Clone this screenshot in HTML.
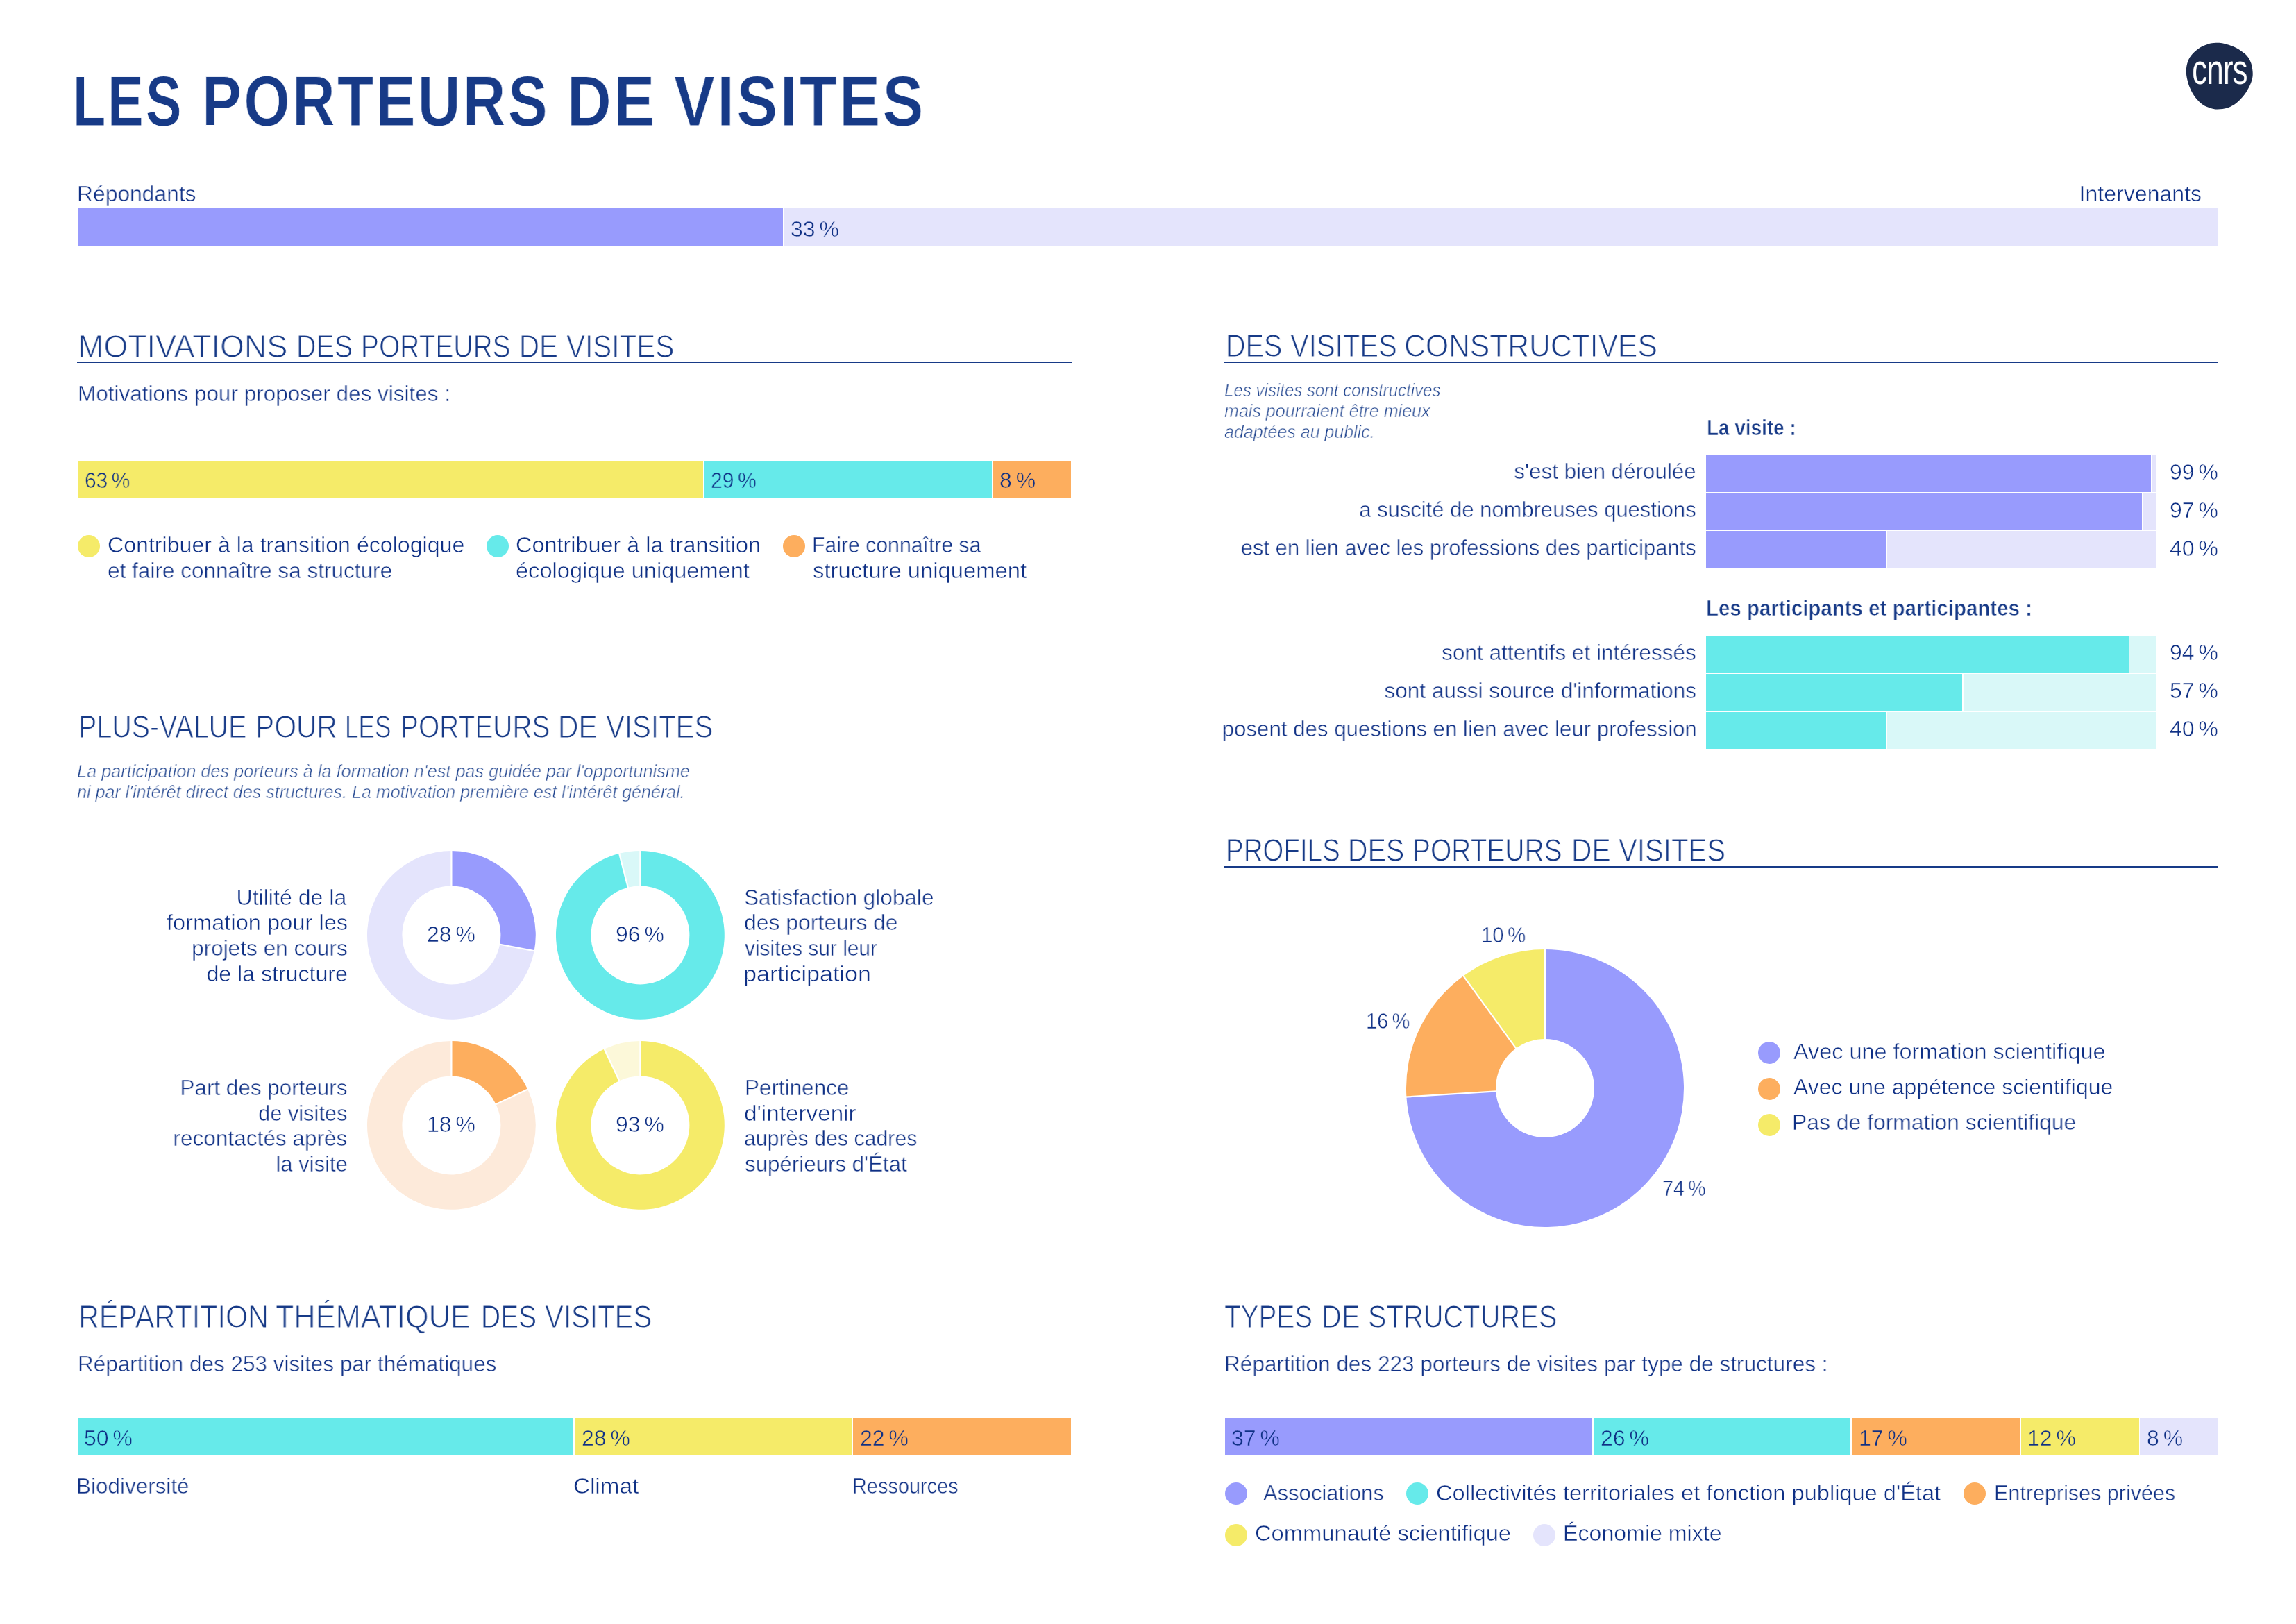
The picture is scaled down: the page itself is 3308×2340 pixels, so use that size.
<!DOCTYPE html>
<html lang="fr"><head><meta charset="utf-8"><title>Les porteurs de visites</title>
<style>
html,body{margin:0;padding:0;background:#fff;}
body{width:3308px;height:2340px;position:relative;overflow:hidden;font-family:"Liberation Sans",sans-serif;color:#173a87;}
.t{position:absolute;white-space:nowrap;will-change:transform;}
.r{position:absolute;}
.sp{display:inline-block;width:6px;}
</style></head><body>
<div class="t" style="left:104.6px;top:88.3px;font-size:101.7px;line-height:116.955px;font-weight:bold;letter-spacing:4px;transform:scaleX(0.7599);transform-origin:left top;color:#173a87;-webkit-text-stroke:0.8px #fff;">LES</div>
<div class="t" style="left:290.7px;top:88.3px;font-size:101.7px;line-height:116.955px;font-weight:bold;letter-spacing:4px;transform:scaleX(0.8392);transform-origin:left top;color:#173a87;-webkit-text-stroke:0.8px #fff;">PORTEURS</div>
<div class="t" style="left:817.3px;top:88.3px;font-size:101.7px;line-height:116.955px;font-weight:bold;letter-spacing:4px;transform:scaleX(0.8683);transform-origin:left top;color:#173a87;-webkit-text-stroke:0.8px #fff;">DE</div>
<div class="t" style="left:970.7px;top:88.3px;font-size:101.7px;line-height:116.955px;font-weight:bold;letter-spacing:4px;transform:scaleX(0.8683);transform-origin:left top;color:#173a87;-webkit-text-stroke:0.8px #fff;">VISITES</div>
<svg class="r" style="left:3140px;top:52px" width="116" height="116" viewBox="0 0 116 116"><path d="M52.80,9.82 C56.61,9.66 59.57,9.75 63.88,10.71 C68.19,11.67 74.34,13.70 78.65,15.58 C82.96,17.47 86.53,19.77 89.73,22.01 C92.94,24.25 95.58,26.13 97.86,29.03 C100.14,31.92 102.11,35.55 103.40,39.37 C104.69,43.19 105.37,48.24 105.62,51.93 C105.86,55.62 105.68,58.09 104.88,61.53 C104.08,64.98 102.72,68.74 100.82,72.62 C98.91,76.49 96.51,80.87 93.43,84.81 C90.35,88.75 86.29,93.18 82.35,96.26 C78.41,99.33 74.34,101.74 69.79,103.27 C65.23,104.81 59.20,105.43 55.01,105.49 C50.83,105.55 48.24,104.75 44.67,103.64 C41.10,102.54 37.16,101.30 33.59,98.84 C30.02,96.38 26.20,92.62 23.24,88.87 C20.29,85.11 17.83,80.62 15.86,76.31 C13.89,72.00 12.43,67.44 11.42,63.01 C10.41,58.58 9.68,54.15 9.80,49.71 C9.92,45.28 10.66,40.42 12.16,36.42 C13.67,32.41 15.86,29.03 18.81,25.70 C21.77,22.38 26.20,18.81 29.89,16.47 C33.59,14.13 37.16,12.78 40.98,11.67 C44.79,10.56 48.98,9.98 52.80,9.82 Z" fill="#1b2a4b"/></svg>
<div class="t" style="left:2697.5px;width:1000px;text-align:center;top:65.6px;font-size:60.3px;line-height:69.34499999999998px;transform:scaleX(0.7250);transform-origin:center top;color:#ffffff;letter-spacing:-1px;">cnrs</div>
<div class="t" style="left:111.2px;top:261.0px;font-size:32px;line-height:36.8px;transform:scaleX(0.9936);transform-origin:left top;color:#0f3085;-webkit-text-stroke:0.5px #fff;">Répondants</div>
<div class="t" style="right:136.2px;text-align:right;top:261.0px;font-size:32px;line-height:36.8px;transform:scaleX(1.0023);transform-origin:right top;color:#0f3085;-webkit-text-stroke:0.5px #fff;">Intervenants</div>
<div class="r" style="left:112.0px;top:300.0px;width:1016.0px;height:54.0px;background:#989bfd"></div>
<div class="r" style="left:1130.0px;top:300.0px;width:2066.0px;height:54.0px;background:#e4e4fc"></div>
<div class="t" style="left:1139.0px;top:311.5px;font-size:32px;line-height:36.8px;color:#0f3085;-webkit-text-stroke:0.5px #e4e4fc;">33<span class="sp"> </span>%</div>
<div class="t" style="left:111.9px;top:474.1px;font-size:45.6px;line-height:52.44px;transform:scaleX(0.9834);transform-origin:left top;color:#173a87;-webkit-text-stroke:1.0px #fff;">MOTIVATIONS</div>
<div class="t" style="left:426.6px;top:474.1px;font-size:45.6px;line-height:52.44px;transform:scaleX(0.8664);transform-origin:left top;color:#173a87;-webkit-text-stroke:1.0px #fff;">DES</div>
<div class="t" style="left:520.4px;top:474.1px;font-size:45.6px;line-height:52.44px;transform:scaleX(0.8537);transform-origin:left top;color:#173a87;-webkit-text-stroke:1.0px #fff;">PORTEURS</div>
<div class="t" style="left:748.1px;top:474.1px;font-size:45.6px;line-height:52.44px;transform:scaleX(0.8808);transform-origin:left top;color:#173a87;-webkit-text-stroke:1.0px #fff;">DE</div>
<div class="t" style="left:815.9px;top:474.1px;font-size:45.6px;line-height:52.44px;transform:scaleX(0.8880);transform-origin:left top;color:#173a87;-webkit-text-stroke:1.0px #fff;">VISITES</div>
<div class="r" style="left:111.0px;top:521.7px;width:1433.0px;height:1.6px;background:#173a87"></div>
<div class="t" style="left:112.0px;top:549.0px;font-size:32px;line-height:36.8px;transform:scaleX(0.9833);transform-origin:left top;color:#0f3085;-webkit-text-stroke:0.5px #fff;">Motivations pour proposer des visites :</div>
<div class="r" style="left:112.0px;top:664.0px;width:901.0px;height:54.0px;background:#f5eb69"></div>
<div class="r" style="left:1014.5px;top:664.0px;width:414.0px;height:54.0px;background:#66eaea"></div>
<div class="r" style="left:1430.0px;top:664.0px;width:113.0px;height:54.0px;background:#fdae5e"></div>
<div class="t" style="left:121.6px;top:673.7px;font-size:32px;line-height:36.8px;transform:scaleX(0.9330);transform-origin:left top;color:#0f3085;-webkit-text-stroke:0.5px #f5eb69;">63<span class="sp"> </span>%</div>
<div class="t" style="left:1024.1px;top:673.7px;font-size:32px;line-height:36.8px;transform:scaleX(0.9418);transform-origin:left top;color:#0f3085;-webkit-text-stroke:0.5px #66eaea;">29<span class="sp"> </span>%</div>
<div class="t" style="left:1439.6px;top:673.7px;font-size:32px;line-height:36.8px;color:#0f3085;-webkit-text-stroke:0.5px #fdae5e;">8<span class="sp"> </span>%</div>
<div class="r" style="left:111.7px;top:770.6px;width:32px;height:32px;border-radius:50%;background:#f5eb69"></div>
<div class="r" style="left:701.0px;top:770.6px;width:32px;height:32px;border-radius:50%;background:#66eaea"></div>
<div class="r" style="left:1127.8px;top:770.6px;width:32px;height:32px;border-radius:50%;background:#fdae5e"></div>
<div class="t" style="left:155.2px;top:767.0px;font-size:32px;line-height:36.8px;transform:scaleX(1.0039);transform-origin:left top;color:#0f3085;-webkit-text-stroke:0.5px #fff;">Contribuer à la transition écologique</div>
<div class="t" style="left:155.2px;top:803.8px;font-size:32px;line-height:36.8px;transform:scaleX(0.9853);transform-origin:left top;color:#0f3085;-webkit-text-stroke:0.5px #fff;">et faire connaître sa structure</div>
<div class="t" style="left:742.7px;top:767.0px;font-size:32px;line-height:36.8px;transform:scaleX(1.0129);transform-origin:left top;color:#0f3085;-webkit-text-stroke:0.5px #fff;">Contribuer à la transition</div>
<div class="t" style="left:742.7px;top:803.8px;font-size:32px;line-height:36.8px;transform:scaleX(1.0181);transform-origin:left top;color:#0f3085;-webkit-text-stroke:0.5px #fff;">écologique uniquement</div>
<div class="t" style="left:1169.5px;top:767.0px;font-size:32px;line-height:36.8px;transform:scaleX(0.9437);transform-origin:left top;color:#0f3085;-webkit-text-stroke:0.5px #fff;">Faire connaître sa</div>
<div class="t" style="left:1171.4px;top:803.8px;font-size:32px;line-height:36.8px;transform:scaleX(1.0252);transform-origin:left top;color:#0f3085;-webkit-text-stroke:0.5px #fff;">structure uniquement</div>
<div class="t" style="left:112.9px;top:1022.4px;font-size:45.6px;line-height:52.44px;transform:scaleX(0.8645);transform-origin:left top;color:#173a87;-webkit-text-stroke:1.0px #fff;">PLUS-VALUE</div>
<div class="t" style="left:367.7px;top:1022.4px;font-size:45.6px;line-height:52.44px;transform:scaleX(0.8951);transform-origin:left top;color:#173a87;-webkit-text-stroke:1.0px #fff;">POUR</div>
<div class="t" style="left:497.3px;top:1022.4px;font-size:45.6px;line-height:52.44px;transform:scaleX(0.7717);transform-origin:left top;color:#173a87;-webkit-text-stroke:1.0px #fff;">LES</div>
<div class="t" style="left:576.5px;top:1022.4px;font-size:45.6px;line-height:52.44px;transform:scaleX(0.8529);transform-origin:left top;color:#173a87;-webkit-text-stroke:1.0px #fff;">PORTEURS</div>
<div class="t" style="left:804.3px;top:1022.4px;font-size:45.6px;line-height:52.44px;transform:scaleX(0.8943);transform-origin:left top;color:#173a87;-webkit-text-stroke:1.0px #fff;">DE</div>
<div class="t" style="left:872.8px;top:1022.4px;font-size:45.6px;line-height:52.44px;transform:scaleX(0.8828);transform-origin:left top;color:#173a87;-webkit-text-stroke:1.0px #fff;">VISITES</div>
<div class="r" style="left:111.0px;top:1069.7px;width:1433.0px;height:1.6px;background:#173a87"></div>
<div class="t" style="left:111.2px;top:1097.2px;font-size:26px;line-height:29.9px;font-style:italic;transform:scaleX(0.9714);transform-origin:left top;color:#21458f;-webkit-text-stroke:0.6px #fff;">La participation des porteurs à la formation n'est pas guidée par l'opportunisme</div>
<div class="t" style="left:111.2px;top:1127.0px;font-size:26px;line-height:29.9px;font-style:italic;transform:scaleX(0.9635);transform-origin:left top;color:#21458f;-webkit-text-stroke:0.6px #fff;">ni par l'intérêt direct des structures. La motivation première est l'intérêt général.</div>
<svg class="r" style="left:524.6px;top:1221.8px" width="250.8" height="250.8" viewBox="0 0 250.8 250.8"><path d="M125.40,4.00 A121.4,121.4 0 0 1 244.65,148.15 L195.14,138.70 A71,71 0 0 0 125.40,54.40 Z" fill="#989bfd"/><path d="M244.65,148.15 A121.4,121.4 0 1 1 125.40,4.00 L125.40,54.40 A71,71 0 1 0 195.14,138.70 Z" fill="#e4e4fc"/><line x1="125.40" y1="55.40" x2="125.40" y2="2.00" stroke="#fff" stroke-width="2.2"/><line x1="194.16" y1="138.52" x2="246.61" y2="148.52" stroke="#fff" stroke-width="2.2"/></svg>
<svg class="r" style="left:796.6px;top:1221.8px" width="250.8" height="250.8" viewBox="0 0 250.8 250.8"><path d="M125.40,4.00 A121.4,121.4 0 1 1 95.21,7.81 L107.74,56.63 A71,71 0 1 0 125.40,54.40 Z" fill="#66eaea"/><path d="M95.21,7.81 A121.4,121.4 0 0 1 125.40,4.00 L125.40,54.40 A71,71 0 0 0 107.74,56.63 Z" fill="#d9f8f8"/><line x1="125.40" y1="55.40" x2="125.40" y2="2.00" stroke="#fff" stroke-width="2.2"/><line x1="107.99" y1="57.60" x2="94.71" y2="5.88" stroke="#fff" stroke-width="2.2"/></svg>
<svg class="r" style="left:524.6px;top:1496.0px" width="250.8" height="250.8" viewBox="0 0 250.8 250.8"><path d="M125.40,4.00 A121.4,121.4 0 0 1 235.25,73.71 L189.64,95.17 A71,71 0 0 0 125.40,54.40 Z" fill="#fdae5e"/><path d="M235.25,73.71 A121.4,121.4 0 1 1 125.40,4.00 L125.40,54.40 A71,71 0 1 0 189.64,95.17 Z" fill="#fdeada"/><line x1="125.40" y1="55.40" x2="125.40" y2="2.00" stroke="#fff" stroke-width="2.2"/><line x1="188.74" y1="95.60" x2="237.06" y2="72.86" stroke="#fff" stroke-width="2.2"/></svg>
<svg class="r" style="left:796.6px;top:1496.0px" width="250.8" height="250.8" viewBox="0 0 250.8 250.8"><path d="M125.40,4.00 A121.4,121.4 0 1 1 73.71,15.55 L95.17,61.16 A71,71 0 1 0 125.40,54.40 Z" fill="#f5eb69"/><path d="M73.71,15.55 A121.4,121.4 0 0 1 125.40,4.00 L125.40,54.40 A71,71 0 0 0 95.17,61.16 Z" fill="#fcf8d9"/><line x1="125.40" y1="55.40" x2="125.40" y2="2.00" stroke="#fff" stroke-width="2.2"/><line x1="95.60" y1="62.06" x2="72.86" y2="13.74" stroke="#fff" stroke-width="2.2"/></svg>
<div class="t" style="left:150.0px;width:1000px;text-align:center;top:1327.5px;font-size:32px;line-height:36.8px;color:#0f3085;-webkit-text-stroke:0.5px #fff;">28<span class="sp"> </span>%</div>
<div class="t" style="left:422.0px;width:1000px;text-align:center;top:1327.5px;font-size:32px;line-height:36.8px;color:#0f3085;-webkit-text-stroke:0.5px #fff;">96<span class="sp"> </span>%</div>
<div class="t" style="left:150.0px;width:1000px;text-align:center;top:1601.7px;font-size:32px;line-height:36.8px;color:#0f3085;-webkit-text-stroke:0.5px #fff;">18<span class="sp"> </span>%</div>
<div class="t" style="left:422.0px;width:1000px;text-align:center;top:1601.7px;font-size:32px;line-height:36.8px;color:#0f3085;-webkit-text-stroke:0.5px #fff;">93<span class="sp"> </span>%</div>
<div class="t" style="right:2808.4px;text-align:right;top:1274.8px;font-size:32px;line-height:36.8px;transform:scaleX(1.0032);transform-origin:right top;color:#0f3085;-webkit-text-stroke:0.5px #fff;">Utilité de la</div>
<div class="t" style="right:2807.2px;text-align:right;top:1311.4px;font-size:32px;line-height:36.8px;transform:scaleX(1.0199);transform-origin:right top;color:#0f3085;-webkit-text-stroke:0.5px #fff;">formation pour les</div>
<div class="t" style="right:2807.2px;text-align:right;top:1348.0px;font-size:32px;line-height:36.8px;transform:scaleX(0.9868);transform-origin:right top;color:#0f3085;-webkit-text-stroke:0.5px #fff;">projets en cours</div>
<div class="t" style="right:2807.4px;text-align:right;top:1384.6px;font-size:32px;line-height:36.8px;transform:scaleX(1.0026);transform-origin:right top;color:#0f3085;-webkit-text-stroke:0.5px #fff;">de la structure</div>
<div class="t" style="left:1072.2px;top:1274.8px;font-size:32px;line-height:36.8px;transform:scaleX(0.9854);transform-origin:left top;color:#0f3085;-webkit-text-stroke:0.5px #fff;">Satisfaction globale</div>
<div class="t" style="left:1072.2px;top:1311.4px;font-size:32px;line-height:36.8px;transform:scaleX(0.9965);transform-origin:left top;color:#0f3085;-webkit-text-stroke:0.5px #fff;">des porteurs de</div>
<div class="t" style="left:1073.2px;top:1348.0px;font-size:32px;line-height:36.8px;transform:scaleX(0.9339);transform-origin:left top;color:#0f3085;-webkit-text-stroke:0.5px #fff;">visites sur leur</div>
<div class="t" style="left:1071.1px;top:1384.6px;font-size:32px;line-height:36.8px;transform:scaleX(1.0655);transform-origin:left top;color:#0f3085;-webkit-text-stroke:0.5px #fff;">participation</div>
<div class="t" style="right:2807.2px;text-align:right;top:1549.1px;font-size:32px;line-height:36.8px;transform:scaleX(0.9816);transform-origin:right top;color:#0f3085;-webkit-text-stroke:0.5px #fff;">Part des porteurs</div>
<div class="t" style="right:2807.2px;text-align:right;top:1585.7px;font-size:32px;line-height:36.8px;transform:scaleX(0.9613);transform-origin:right top;color:#0f3085;-webkit-text-stroke:0.5px #fff;">de visites</div>
<div class="t" style="right:2807.2px;text-align:right;top:1622.3px;font-size:32px;line-height:36.8px;transform:scaleX(0.9870);transform-origin:right top;color:#0f3085;-webkit-text-stroke:0.5px #fff;">recontactés après</div>
<div class="t" style="right:2807.4px;text-align:right;top:1658.9px;font-size:32px;line-height:36.8px;transform:scaleX(0.9672);transform-origin:right top;color:#0f3085;-webkit-text-stroke:0.5px #fff;">la visite</div>
<div class="t" style="left:1072.6px;top:1549.1px;font-size:32px;line-height:36.8px;transform:scaleX(0.9821);transform-origin:left top;color:#0f3085;-webkit-text-stroke:0.5px #fff;">Pertinence</div>
<div class="t" style="left:1071.9px;top:1585.7px;font-size:32px;line-height:36.8px;transform:scaleX(1.0390);transform-origin:left top;color:#0f3085;-webkit-text-stroke:0.5px #fff;">d'intervenir</div>
<div class="t" style="left:1072.3px;top:1622.3px;font-size:32px;line-height:36.8px;transform:scaleX(0.9473);transform-origin:left top;color:#0f3085;-webkit-text-stroke:0.5px #fff;">auprès des cadres</div>
<div class="t" style="left:1073.2px;top:1658.9px;font-size:32px;line-height:36.8px;transform:scaleX(0.9773);transform-origin:left top;color:#0f3085;-webkit-text-stroke:0.5px #fff;">supérieurs d'État</div>
<div class="t" style="left:1765.6px;top:473.4px;font-size:45.6px;line-height:52.44px;transform:scaleX(0.8675);transform-origin:left top;color:#173a87;-webkit-text-stroke:1.0px #fff;">DES</div>
<div class="t" style="left:1859.2px;top:473.4px;font-size:45.6px;line-height:52.44px;transform:scaleX(0.8794);transform-origin:left top;color:#173a87;-webkit-text-stroke:1.0px #fff;">VISITES</div>
<div class="t" style="left:2023.1px;top:473.4px;font-size:45.6px;line-height:52.44px;transform:scaleX(0.9354);transform-origin:left top;color:#173a87;-webkit-text-stroke:1.0px #fff;">CONSTRUCTIVES</div>
<div class="r" style="left:1764.0px;top:521.7px;width:1432.0px;height:1.6px;background:#173a87"></div>
<div class="t" style="left:1764.2px;top:548.0px;font-size:26px;line-height:29.9px;font-style:italic;transform:scaleX(0.9252);transform-origin:left top;color:#21458f;-webkit-text-stroke:0.6px #fff;">Les visites sont constructives</div>
<div class="t" style="left:1764.2px;top:578.0px;font-size:26px;line-height:29.9px;font-style:italic;transform:scaleX(0.9634);transform-origin:left top;color:#21458f;-webkit-text-stroke:0.6px #fff;">mais pourraient être mieux</div>
<div class="t" style="left:1764.2px;top:608.0px;font-size:26px;line-height:29.9px;font-style:italic;transform:scaleX(0.9607);transform-origin:left top;color:#21458f;-webkit-text-stroke:0.6px #fff;">adaptées au public.</div>
<div class="t" style="left:2458.5px;top:597.8px;font-size:32px;line-height:36.8px;font-weight:bold;transform:scaleX(0.8716);transform-origin:left top;color:#173a87;-webkit-text-stroke:0.6px #fff;">La visite :</div>
<div class="r" style="left:2458.0px;top:655.0px;width:648.0px;height:53.8px;background:#e4e4fc"></div>
<div class="r" style="left:2458.0px;top:655.0px;width:641.5px;height:53.8px;background:#989bfd"></div>
<div class="r" style="left:3099.3px;top:655.0px;width:1.6px;height:53.8px;background:#ffffff"></div>
<div class="t" style="right:864.4px;text-align:right;top:661.4px;font-size:32px;line-height:36.8px;transform:scaleX(0.9800);transform-origin:right top;color:#0f3085;-webkit-text-stroke:0.5px #fff;">s'est bien déroulée</div>
<div class="t" style="left:3126.4px;top:661.5px;font-size:32px;line-height:36.8px;color:#0f3085;-webkit-text-stroke:0.5px #fff;">99<span class="sp"> </span>%</div>
<div class="r" style="left:2458.0px;top:710.0px;width:648.0px;height:53.8px;background:#e4e4fc"></div>
<div class="r" style="left:2458.0px;top:710.0px;width:628.6px;height:53.8px;background:#989bfd"></div>
<div class="r" style="left:3086.4px;top:710.0px;width:1.6px;height:53.8px;background:#ffffff"></div>
<div class="t" style="right:864.2px;text-align:right;top:716.4px;font-size:32px;line-height:36.8px;transform:scaleX(0.9677);transform-origin:right top;color:#0f3085;-webkit-text-stroke:0.5px #fff;">a suscité de nombreuses questions</div>
<div class="t" style="left:3126.4px;top:716.5px;font-size:32px;line-height:36.8px;color:#0f3085;-webkit-text-stroke:0.5px #fff;">97<span class="sp"> </span>%</div>
<div class="r" style="left:2458.0px;top:765.0px;width:648.0px;height:53.8px;background:#e4e4fc"></div>
<div class="r" style="left:2458.0px;top:765.0px;width:259.2px;height:53.8px;background:#989bfd"></div>
<div class="r" style="left:2717.0px;top:765.0px;width:1.6px;height:53.8px;background:#ffffff"></div>
<div class="t" style="right:864.2px;text-align:right;top:771.4px;font-size:32px;line-height:36.8px;transform:scaleX(0.9680);transform-origin:right top;color:#0f3085;-webkit-text-stroke:0.5px #fff;">est en lien avec les professions des participants</div>
<div class="t" style="left:3126.4px;top:771.5px;font-size:32px;line-height:36.8px;color:#0f3085;-webkit-text-stroke:0.5px #fff;">40<span class="sp"> </span>%</div>
<div class="t" style="left:2458.4px;top:857.8px;font-size:32px;line-height:36.8px;font-weight:bold;transform:scaleX(0.9207);transform-origin:left top;color:#173a87;-webkit-text-stroke:0.6px #fff;">Les participants et participantes :</div>
<div class="r" style="left:2458.0px;top:915.5px;width:648.0px;height:53.8px;background:#d9f8f8"></div>
<div class="r" style="left:2458.0px;top:915.5px;width:609.1px;height:53.8px;background:#66eaea"></div>
<div class="r" style="left:3066.9px;top:915.5px;width:1.6px;height:53.8px;background:#ffffff"></div>
<div class="t" style="right:864.2px;text-align:right;top:922.0px;font-size:32px;line-height:36.8px;transform:scaleX(0.9864);transform-origin:right top;color:#0f3085;-webkit-text-stroke:0.5px #fff;">sont attentifs et intéressés</div>
<div class="t" style="left:3126.4px;top:922.0px;font-size:32px;line-height:36.8px;color:#0f3085;-webkit-text-stroke:0.5px #fff;">94<span class="sp"> </span>%</div>
<div class="r" style="left:2458.0px;top:970.5px;width:648.0px;height:53.8px;background:#d9f8f8"></div>
<div class="r" style="left:2458.0px;top:970.5px;width:369.4px;height:53.8px;background:#66eaea"></div>
<div class="r" style="left:2827.2px;top:970.5px;width:1.6px;height:53.8px;background:#ffffff"></div>
<div class="t" style="right:864.2px;text-align:right;top:977.0px;font-size:32px;line-height:36.8px;transform:scaleX(0.9859);transform-origin:right top;color:#0f3085;-webkit-text-stroke:0.5px #fff;">sont aussi source d'informations</div>
<div class="t" style="left:3126.4px;top:977.0px;font-size:32px;line-height:36.8px;color:#0f3085;-webkit-text-stroke:0.5px #fff;">57<span class="sp"> </span>%</div>
<div class="r" style="left:2458.0px;top:1025.5px;width:648.0px;height:53.8px;background:#d9f8f8"></div>
<div class="r" style="left:2458.0px;top:1025.5px;width:259.2px;height:53.8px;background:#66eaea"></div>
<div class="r" style="left:2717.0px;top:1025.5px;width:1.6px;height:53.8px;background:#ffffff"></div>
<div class="t" style="right:863.4px;text-align:right;top:1032.0px;font-size:32px;line-height:36.8px;transform:scaleX(0.9763);transform-origin:right top;color:#0f3085;-webkit-text-stroke:0.5px #fff;">posent des questions en lien avec leur profession</div>
<div class="t" style="left:3126.4px;top:1032.0px;font-size:32px;line-height:36.8px;color:#0f3085;-webkit-text-stroke:0.5px #fff;">40<span class="sp"> </span>%</div>
<div class="t" style="left:1765.5px;top:1200.2px;font-size:45.6px;line-height:52.44px;transform:scaleX(0.8444);transform-origin:left top;color:#173a87;-webkit-text-stroke:1.0px #fff;">PROFILS</div>
<div class="t" style="left:1941.6px;top:1200.2px;font-size:45.6px;line-height:52.44px;transform:scaleX(0.8675);transform-origin:left top;color:#173a87;-webkit-text-stroke:1.0px #fff;">DES</div>
<div class="t" style="left:2035.3px;top:1200.2px;font-size:45.6px;line-height:52.44px;transform:scaleX(0.8537);transform-origin:left top;color:#173a87;-webkit-text-stroke:1.0px #fff;">PORTEURS</div>
<div class="t" style="left:2263.5px;top:1200.2px;font-size:45.6px;line-height:52.44px;transform:scaleX(0.8943);transform-origin:left top;color:#173a87;-webkit-text-stroke:1.0px #fff;">DE</div>
<div class="t" style="left:2332.0px;top:1200.2px;font-size:45.6px;line-height:52.44px;transform:scaleX(0.8805);transform-origin:left top;color:#173a87;-webkit-text-stroke:1.0px #fff;">VISITES</div>
<div class="r" style="left:1764.0px;top:1248.2px;width:1432.0px;height:1.6px;background:#173a87"></div>
<svg class="r" style="left:2021.9px;top:1363.8px" width="408" height="408" viewBox="0 0 408 408"><path d="M204.00,4.00 A200,200 0 1 1 4.39,216.56 L133.14,208.46 A71,71 0 1 0 204.00,133.00 Z" fill="#989bfd"/><path d="M4.39,216.56 A200,200 0 0 1 86.44,42.20 L162.27,146.56 A71,71 0 0 0 133.14,208.46 Z" fill="#fdae5e"/><path d="M86.44,42.20 A200,200 0 0 1 204.00,4.00 L204.00,133.00 A71,71 0 0 0 162.27,146.56 Z" fill="#f5eb69"/><line x1="204.00" y1="134.00" x2="204.00" y2="2.00" stroke="#fff" stroke-width="2.2"/><line x1="134.14" y1="208.40" x2="2.40" y2="216.68" stroke="#fff" stroke-width="2.2"/><line x1="162.86" y1="147.37" x2="85.27" y2="40.58" stroke="#fff" stroke-width="2.2"/></svg>
<div class="t" style="left:2133.7px;top:1329.4px;font-size:32px;line-height:36.8px;transform:scaleX(0.9187);transform-origin:left top;color:#0f3085;-webkit-text-stroke:0.5px #fff;">10<span class="sp"> </span>%</div>
<div class="t" style="left:1968.2px;top:1453.0px;font-size:32px;line-height:36.8px;transform:scaleX(0.9054);transform-origin:left top;color:#0f3085;-webkit-text-stroke:0.5px #fff;">16<span class="sp"> </span>%</div>
<div class="t" style="left:2394.5px;top:1693.5px;font-size:32px;line-height:36.8px;transform:scaleX(0.8951);transform-origin:left top;color:#0f3085;-webkit-text-stroke:0.5px #fff;">74<span class="sp"> </span>%</div>
<div class="r" style="left:2532.8px;top:1501.0px;width:32px;height:32px;border-radius:50%;background:#989bfd"></div>
<div class="t" style="left:2584.2px;top:1496.5px;font-size:32px;line-height:36.8px;transform:scaleX(1.0122);transform-origin:left top;color:#0f3085;-webkit-text-stroke:0.5px #fff;">Avec une formation scientifique</div>
<div class="r" style="left:2532.8px;top:1552.8px;width:32px;height:32px;border-radius:50%;background:#fdae5e"></div>
<div class="t" style="left:2584.2px;top:1547.7px;font-size:32px;line-height:36.8px;transform:scaleX(1.0002);transform-origin:left top;color:#0f3085;-webkit-text-stroke:0.5px #fff;">Avec une appétence scientifique</div>
<div class="r" style="left:2532.8px;top:1604.6px;width:32px;height:32px;border-radius:50%;background:#f5eb69"></div>
<div class="t" style="left:2582.2px;top:1598.9px;font-size:32px;line-height:36.8px;transform:scaleX(0.9961);transform-origin:left top;color:#0f3085;-webkit-text-stroke:0.5px #fff;">Pas de formation scientifique</div>
<div class="t" style="left:112.8px;top:1872.4px;font-size:45.6px;line-height:52.44px;transform:scaleX(0.9059);transform-origin:left top;color:#173a87;-webkit-text-stroke:1.0px #fff;">RÉPARTITION</div>
<div class="t" style="left:396.8px;top:1872.4px;font-size:45.6px;line-height:52.44px;transform:scaleX(0.9502);transform-origin:left top;color:#173a87;-webkit-text-stroke:1.0px #fff;">THÉMATIQUE</div>
<div class="t" style="left:692.5px;top:1872.4px;font-size:45.6px;line-height:52.44px;transform:scaleX(0.8541);transform-origin:left top;color:#173a87;-webkit-text-stroke:1.0px #fff;">DES</div>
<div class="t" style="left:784.6px;top:1872.4px;font-size:45.6px;line-height:52.44px;transform:scaleX(0.8828);transform-origin:left top;color:#173a87;-webkit-text-stroke:1.0px #fff;">VISITES</div>
<div class="r" style="left:111.0px;top:1919.8px;width:1433.0px;height:1.6px;background:#173a87"></div>
<div class="t" style="left:111.8px;top:1947.0px;font-size:32px;line-height:36.8px;transform:scaleX(0.9832);transform-origin:left top;color:#0f3085;-webkit-text-stroke:0.5px #fff;">Répartition des 253 visites par thématiques</div>
<div class="r" style="left:112.0px;top:2043.0px;width:714.3px;height:53.5px;background:#66eaea"></div>
<div class="r" style="left:828.0px;top:2043.0px;width:399.5px;height:53.5px;background:#f5eb69"></div>
<div class="r" style="left:1229.3px;top:2043.0px;width:313.7px;height:53.5px;background:#fdae5e"></div>
<div class="t" style="left:120.7px;top:2054.0px;font-size:32px;line-height:36.8px;color:#0f3085;-webkit-text-stroke:0.5px #66eaea;">50<span class="sp"> </span>%</div>
<div class="t" style="left:837.7px;top:2054.0px;font-size:32px;line-height:36.8px;color:#0f3085;-webkit-text-stroke:0.5px #f5eb69;">28<span class="sp"> </span>%</div>
<div class="t" style="left:1238.9px;top:2054.0px;font-size:32px;line-height:36.8px;color:#0f3085;-webkit-text-stroke:0.5px #fdae5e;">22<span class="sp"> </span>%</div>
<div class="t" style="left:110.2px;top:2123.3px;font-size:32px;line-height:36.8px;transform:scaleX(0.9827);transform-origin:left top;color:#0f3085;-webkit-text-stroke:0.5px #fff;">Biodiversité</div>
<div class="t" style="left:826.3px;top:2123.3px;font-size:32px;line-height:36.8px;transform:scaleX(1.0381);transform-origin:left top;color:#0f3085;-webkit-text-stroke:0.5px #fff;">Climat</div>
<div class="t" style="left:1227.7px;top:2123.3px;font-size:32px;line-height:36.8px;transform:scaleX(0.9027);transform-origin:left top;color:#0f3085;-webkit-text-stroke:0.5px #fff;">Ressources</div>
<div class="t" style="left:1763.8px;top:1872.1px;font-size:45.6px;line-height:52.44px;transform:scaleX(0.8499);transform-origin:left top;color:#173a87;-webkit-text-stroke:1.0px #fff;">TYPES</div>
<div class="t" style="left:1903.6px;top:1872.1px;font-size:45.6px;line-height:52.44px;transform:scaleX(0.8757);transform-origin:left top;color:#173a87;-webkit-text-stroke:1.0px #fff;">DE</div>
<div class="t" style="left:1970.9px;top:1872.1px;font-size:45.6px;line-height:52.44px;transform:scaleX(0.8742);transform-origin:left top;color:#173a87;-webkit-text-stroke:1.0px #fff;">STRUCTURES</div>
<div class="r" style="left:1764.0px;top:1919.8px;width:1432.0px;height:1.6px;background:#173a87"></div>
<div class="t" style="left:1763.9px;top:1947.4px;font-size:32px;line-height:36.8px;transform:scaleX(0.9855);transform-origin:left top;color:#0f3085;-webkit-text-stroke:0.5px #fff;">Répartition des 223 porteurs de visites par type de structures :</div>
<div class="r" style="left:1764.5px;top:2043.0px;width:529.7px;height:53.5px;background:#989bfd"></div>
<div class="t" style="left:1774.0px;top:2054.0px;font-size:32px;line-height:36.8px;color:#0f3085;-webkit-text-stroke:0.5px #989bfd;">37<span class="sp"> </span>%</div>
<div class="r" style="left:2296.0px;top:2043.0px;width:370.4px;height:53.5px;background:#66eaea"></div>
<div class="t" style="left:2305.5px;top:2054.0px;font-size:32px;line-height:36.8px;color:#0f3085;-webkit-text-stroke:0.5px #66eaea;">26<span class="sp"> </span>%</div>
<div class="r" style="left:2668.1px;top:2043.0px;width:241.6px;height:53.5px;background:#fdae5e"></div>
<div class="t" style="left:2677.6px;top:2054.0px;font-size:32px;line-height:36.8px;color:#0f3085;-webkit-text-stroke:0.5px #fdae5e;">17<span class="sp"> </span>%</div>
<div class="r" style="left:2911.5px;top:2043.0px;width:170.0px;height:53.5px;background:#f5eb69"></div>
<div class="t" style="left:2921.0px;top:2054.0px;font-size:32px;line-height:36.8px;color:#0f3085;-webkit-text-stroke:0.5px #f5eb69;">12<span class="sp"> </span>%</div>
<div class="r" style="left:3083.3px;top:2043.0px;width:112.7px;height:53.5px;background:#e4e4fc"></div>
<div class="t" style="left:3092.8px;top:2054.0px;font-size:32px;line-height:36.8px;color:#0f3085;-webkit-text-stroke:0.5px #e4e4fc;">8<span class="sp"> </span>%</div>
<div class="r" style="left:1764.8px;top:2136.4px;width:32px;height:32px;border-radius:50%;background:#989bfd"></div>
<div class="t" style="left:1819.6px;top:2132.8px;font-size:32px;line-height:36.8px;transform:scaleX(0.9673);transform-origin:left top;color:#0f3085;-webkit-text-stroke:0.5px #fff;">Associations</div>
<div class="r" style="left:2026.2px;top:2136.4px;width:32px;height:32px;border-radius:50%;background:#66eaea"></div>
<div class="t" style="left:2069.4px;top:2132.8px;font-size:32px;line-height:36.8px;transform:scaleX(1.0183);transform-origin:left top;color:#0f3085;-webkit-text-stroke:0.5px #fff;">Collectivités territoriales et fonction publique d'État</div>
<div class="r" style="left:2829.0px;top:2136.4px;width:32px;height:32px;border-radius:50%;background:#fdae5e"></div>
<div class="t" style="left:2873.0px;top:2132.8px;font-size:32px;line-height:36.8px;transform:scaleX(0.9535);transform-origin:left top;color:#0f3085;-webkit-text-stroke:0.5px #fff;">Entreprises privées</div>
<div class="r" style="left:1764.8px;top:2195.9px;width:32px;height:32px;border-radius:50%;background:#f5eb69"></div>
<div class="t" style="left:1807.6px;top:2190.9px;font-size:32px;line-height:36.8px;transform:scaleX(1.0220);transform-origin:left top;color:#0f3085;-webkit-text-stroke:0.5px #fff;">Communauté scientifique</div>
<div class="r" style="left:2209.1px;top:2195.9px;width:32px;height:32px;border-radius:50%;background:#e4e4fc"></div>
<div class="t" style="left:2251.9px;top:2190.9px;font-size:32px;line-height:36.8px;transform:scaleX(1.0043);transform-origin:left top;color:#0f3085;-webkit-text-stroke:0.5px #fff;">Économie mixte</div>
</body></html>
